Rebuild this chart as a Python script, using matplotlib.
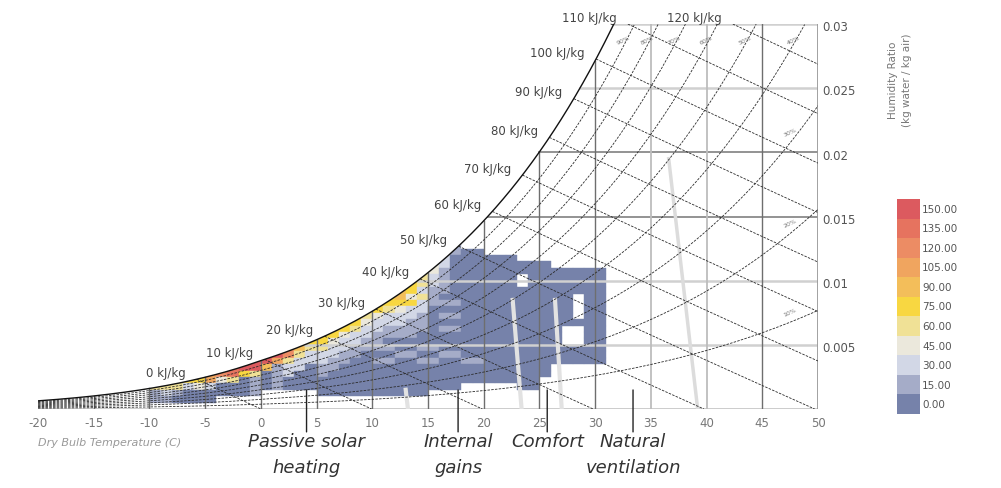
import numpy as np
import matplotlib.pyplot as plt
from matplotlib.collections import PolyCollection
from matplotlib.patches import Rectangle, Polygon

# ---- data -------------------------------------------------------------
# hour-count class per chart cell: columns = dry bulb -20..32 C (1 C bins),
# rows = humidity ratio bins of 0.0005 kg/kg (row 1 = 0.0005-0.001 ...)
# '.' = no hours, '0'..'9','A' = colour class of the legend below
hour_grid = {
    25: ".........." ".........." ".........." ".......1.." ".........." "...",
    24: ".........." ".........." ".........." "......2100" ".........." "...",
    23: ".........." ".........." ".........." "......2000" "000......." "...",
    22: ".........." ".........." ".........." ".....32000" "000000...." "...",
    21: ".........." ".........." ".........." "....431000" "0000000000" "0..",
    20: ".........." ".........." ".........." "....421000" "000.000000" "0..",
    19: ".........." ".........." ".........." "...5421000" "000.000000" "0..",
    18: ".........." ".........." ".........." "..65211000" "0000000000" "0..",
    17: ".........." ".........." ".........." ".563410000" "00000000.0" "0..",
    16: ".........." ".........." ".........." "5555211100" "00000000.0" "0..",
    15: ".........." ".........." ".........4" "5432200000" "00000000.0" "0..",
    14: ".........." ".........." "........54" "3222101100" "00000000.0" "0..",
    13: ".........." ".........." ".......553" "2221100000" "0000000000" "0..",
    12: ".........." ".........." "......5542" "2111101100" "0000000..0" "0..",
    11: ".........." ".........." ".....55322" "1111000000" "0000000..0" "0..",
    10: ".........." ".........." "...6553221" "1000000000" "0000000..0" "0..",
    9:  ".........." ".........." "..86442211" "1100110000" "0000000000" "0..",
    8:  ".........." ".........." "AA84222110" "0011001100" "0000000000" "0..",
    7:  ".........." ".........A" "A742221100" "1100110011" "0000000000" "0..",
    6:  ".........." ".......9AA" "6122011000" "0000000000" "000000...." "...",
    5:  ".........." ".....78954" "0120010000" "0000000000" "000000...." "...",
    4:  ".........." "..45573401" "0100000000" "0000000000" "00000....." "...",
    3:  ".........." "4442320001" "0100000000" "00000000.." "...00....." "...",
    2:  ".........." "1210000001" ".....00000" "00000....." ".........." "...",
    1:  ".........." "110000...." ".........." ".........." ".........." "...",
}
t_start = -20
w_step = 0.0005

legend_values = ["0.00", "15.00", "30.00", "45.00", "60.00", "75.00",
                 "90.00", "105.00", "120.00", "135.00", "150.00"]
legend_colors = ["#7682aa", "#a5acc8", "#d2d7e6", "#ebe8dc", "#f0e196", "#f8d741",
                 "#f3be5a", "#f0a55f", "#ec8c64", "#e6735f", "#dc5a5f"]

enthalpy_levels = [0, 10, 20, 30, 40, 50, 60, 70, 80, 90, 100, 110, 120]
rh_levels = [0.1, 0.2, 0.3, 0.4, 0.5, 0.6, 0.7, 0.8, 0.9]
rh_labels = ["10%", "20%", "30%", "40%", "50%", "60%", "70%", "80%", "90%"]
db_ticks = list(range(-20, 55, 5))
hr_ticks = [0.005, 0.01, 0.015, 0.02, 0.025, 0.03]
hr_tick_labels = ["0.005", "0.01", "0.015", "0.02", "0.025", "0.03"]

strategies = ["Passive solar\nheating", "Internal\ngains", "Comfort", "Natural\nventilation"]
strategy_x = [4.1, 17.7, 25.7, 33.4]    # dry bulb where the pointer stands

# ---- psychrometrics ---------------------------------------------------
P = 101.325


def p_sat(t):
    t = np.asarray(t, float)
    return np.where(t >= 0, 0.61094 * np.exp(17.625 * t / (t + 243.04)),
                    0.61115 * np.exp(22.452 * t / (272.55 + t)))


def w_rh(t, rh):
    pv = rh * p_sat(t)
    return 0.622 * pv / (P - pv)


tt = np.linspace(-20, 50, 1401)
w_sat = w_rh(tt, 1.0)
h_sat = 1.006 * tt + w_sat * (2501 + 1.86 * tt)


def t_of_w_sat(w):
    return np.interp(w, w_sat, tt)


# ---- figure -----------------------------------------------------------
W, H = 1001, 489
fig = plt.figure(figsize=(W / 100, H / 100), dpi=100)
ax = fig.add_axes([38 / W, 79 / H, 780 / W, 385 / H])
ax.set_xlim(-20, 50)
ax.set_ylim(0, 0.03)
ax.axis("off")

# heat map cells, clipped by the saturation curve
polys, cols = [], []
for row, line in hour_grid.items():
    for i, ch in enumerate(line):
        if ch == ".":
            continue
        t0 = t_start + i
        w0 = row * w_step
        polys.append([(t0, w0), (t0 + 1, w0), (t0 + 1, w0 + w_step), (t0, w0 + w_step)])
        cols.append(legend_colors[int(ch, 16)])
cells = PolyCollection(polys, facecolors=cols, edgecolors=cols, linewidths=0.3, zorder=1)
ax.add_collection(cells)
under_sat = Polygon(np.r_[np.c_[tt, w_sat], [[50, 0], [-20, 0]]], closed=True,
                    transform=ax.transData, facecolor="none", edgecolor="none")
ax.add_patch(under_sat)
cells.set_clip_path(under_sat)

# humidity ratio lines
for w in hr_ticks:
    dark = w in (0.015, 0.02)
    ax.plot([t_of_w_sat(w), 50], [w, w], color="#8a8a8a" if dark else "#d0d0d0",
            lw=1.3 if dark else 1.8, zorder=2)
ax.plot([-20, 50], [0, 0], color="#c8c8c8", lw=2, zorder=2)
ax.plot([50, 50], [0, 0.03], color="#9a9a9a", lw=1.3, zorder=2)

# dry bulb lines
for t in db_ticks[1:-1]:
    top = min(float(w_rh(t, 1.0)), 0.03)
    light = t in (35, 40)
    ax.plot([t, t], [0, top], color="#bdbdbd" if light else "#6e6e6e",
            lw=1.3 if light else 1.0, zorder=2)

# strategy boundaries (light grey)
ax.plot([36.6, 39.2], [0.0195, 0.0], color="#dcdcdc", lw=2.5, zorder=2)
ax.plot([23.4, 22.6], [0.0, 0.0085], color="#e2e2e2", lw=3, zorder=2)
ax.plot([27.0, 26.4], [0.0, 0.0085], color="#e2e2e2", lw=3, zorder=2)
ax.plot([13.2, 13.0], [0.0, 0.0015], color="#e2e2e2", lw=3, zorder=2)

# relative humidity curves
for rh in rh_levels:
    w = w_rh(tt, rh)
    m = w <= 0.03
    ax.plot(tt[m], w[m], color="#2b2b2b", lw=0.6, ls=(0, (3, 1.5)), zorder=3)
ax.plot(tt[w_sat <= 0.03], w_sat[w_sat <= 0.03], color="#111111", lw=1.0, zorder=4)

# enthalpy lines
for h in enthalpy_levels:
    t1 = np.interp(h, h_sat, tt)
    w1 = float(w_rh(t1, 1.0))
    if w1 > 0.03:
        w1 = 0.03
        t1 = (h - 2501 * w1) / (1.006 + 1.86 * w1)
    w_end = 0.0 if h / 1.006 <= 50 else (h - 50.3) / (2501 + 93)
    ws = np.linspace(w1, w_end, 50)
    ts = (h - 2501 * ws) / (1.006 + 1.86 * ws)
    ax.plot(ts, ws, color="#2b2b2b", lw=0.6, ls=(0, (3, 1.5)), zorder=3)
    ax.annotate(f"{h} kJ/kg", (t1, w1), xytext=(-8, 5), textcoords="offset points",
                ha="right", va="center", fontsize=8.5, color="#444444")

# rh labels near the top / right edge
for rh, lab in zip(rh_levels, rh_labels):
    if rh <= 0.3:
        t = 47.5
        ax.annotate(lab, (t, float(w_rh(t, rh))), xytext=(0, 4), textcoords="offset points",
                    ha="center", va="bottom", fontsize=4.5, color="#777777", rotation=25)
    else:
        pv = 0.03 * P / (0.622 + 0.03)
        t = float(np.interp(pv / rh, p_sat(tt), tt))
        ax.annotate(lab, (t, 0.03), xytext=(-8, -11), textcoords="offset points",
                    ha="center", va="center", fontsize=4.5, color="#777777", rotation=25)

# axis labels
for t in db_ticks:
    ax.annotate(str(t), (t, 0), xytext=(0, -5), textcoords="offset points",
                ha="center", va="top", fontsize=8.5, color="#777777")
for w, lab in zip(hr_ticks, hr_tick_labels):
    ax.annotate(lab, (50, w), xytext=(3, -2), textcoords="offset points",
                ha="left", va="center", fontsize=8.5, color="#555555")

fig.text(38 / W, 1 - 443 / H, "Dry Bulb Temperature (C)", fontsize=8,
         style="italic", color="#999999", va="center")
fig.text(900 / W, 1 - 80 / H, "Humidity Ratio\n(kg water / kg air)", fontsize=7.5,
         color="#777777", rotation=90, ha="center", va="center", multialignment="center",
         linespacing=1.4)

# strategy pointers
for lab, t in zip(strategies, strategy_x):
    ax.annotate("", (t, 0.0017), xytext=(t, -0.002),
                arrowprops=dict(arrowstyle="-", color="#222222", lw=1.0))
    fig.text(ax.transData.transform((t, 0))[0] / W, 1 - 433 / H, lab, ha="center", va="top",
             fontsize=13, style="italic", color="#333333", linespacing=1.55)

# legend
cb_top, cb_bot = 200, 415
bh = (cb_bot - cb_top) / len(legend_colors)
lax = fig.add_axes([0, 0, 1, 1])
lax.set_xlim(0, W)
lax.set_ylim(H, 0)
lax.axis("off")
for k, (c, lab) in enumerate(zip(legend_colors, legend_values)):
    y = cb_bot - (k + 1) * bh
    lax.add_patch(Rectangle((897, y), 23, bh, facecolor=c, edgecolor="none"))
    lax.text(922, y + bh / 2, lab, fontsize=7.5, color="#555555", va="center", ha="left")

fig.savefig("out.png", dpi=100)
